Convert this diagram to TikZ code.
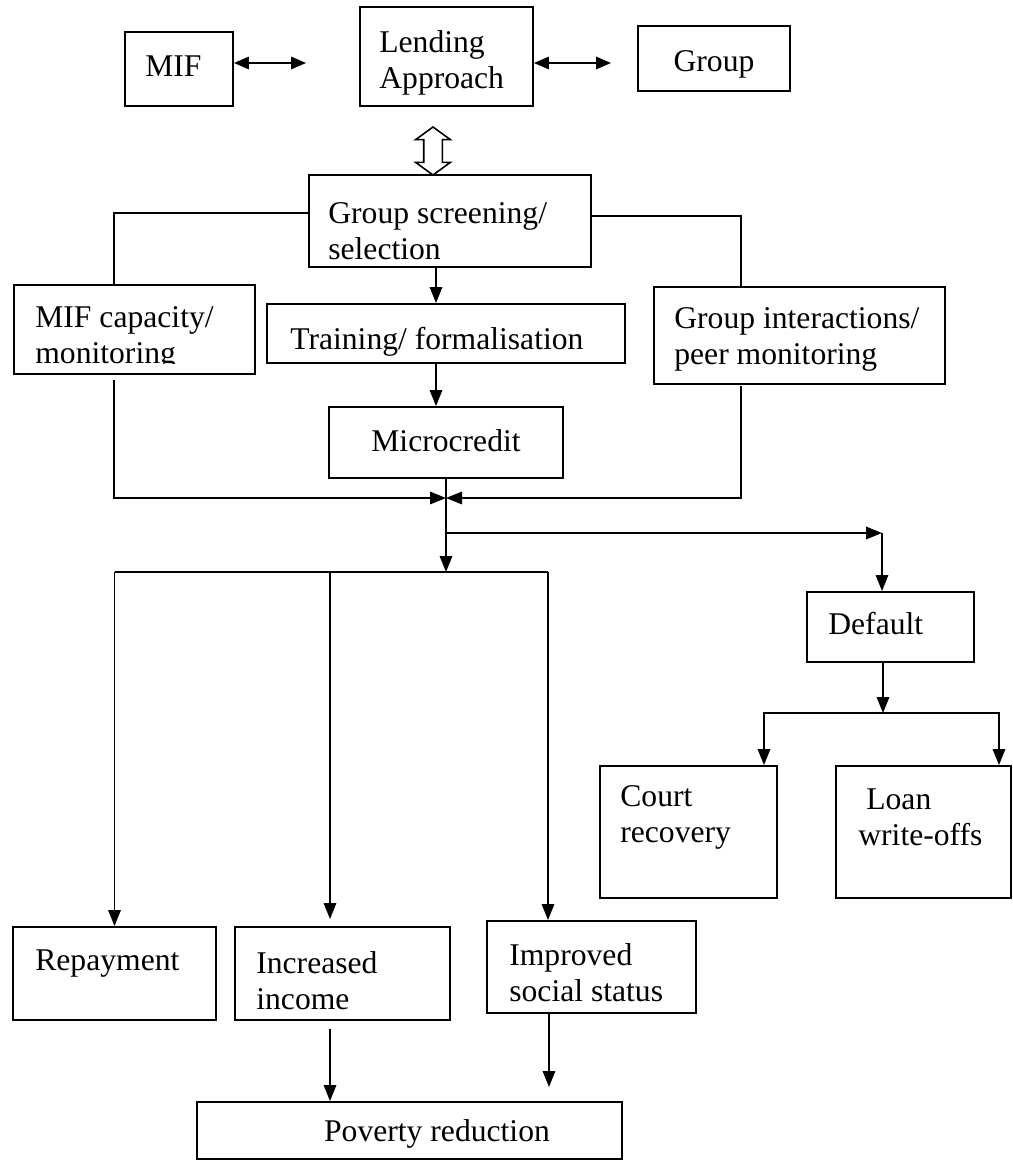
\documentclass[tikz,border=0pt]{standalone}
\usepackage{fontspec}
\setmainfont{Liberation Serif}
\usetikzlibrary{arrows.meta,shapes.arrows}

\begin{document}
\begin{tikzpicture}[x=0.02cm, y=-0.02cm,
  box/.style={draw, line width=1.1pt, inner sep=0pt},
  txt/.style={anchor=west, align=left, inner sep=0pt},
  link/.style={line width=0.95pt},
  arr/.style={link, -{Triangle[length=0.32cm, width=0.25cm]}},
  both/.style={link, {Triangle[length=0.3cm, width=0.25cm]}-{Triangle[length=0.3cm, width=0.25cm]}},
  every node/.style={font=\fontsize{18}{20.5}\selectfont}]
\useasboundingbox (0,0) rectangle (1013,1160);

% top row
\node[box, minimum width=2.16cm, minimum height=1.48cm] (mif) at (179,69) {};
\node[box, minimum width=3.46cm, minimum height=1.98cm] (lend) at (446.5,56.5) {};
\node[box, minimum width=3.04cm, minimum height=1.30cm] (grp) at (714,58.5) {};
\node[txt] (miftxt) at (145,66) {MIF};
\node[txt] (lendtxt) at (379,63) {Lending\\Approach};
\node (grptxt) at (714,64) {Group};
\coordinate (a1) at (306,63);
\coordinate (a2) at (611,63);
\draw[both] (mif.east |- a1) -- (a1);
\draw[both] (lend.east |- a2) -- (a2);
\node[draw, line width=0.9pt, double arrow, shape border rotate=90, inner sep=0.17cm,
  minimum height=0.96cm, double arrow head extend=0.16cm, double arrow tip angle=108] (swap) at (433,151) {};

% screening and its three branches
\node[box, minimum width=5.64cm, minimum height=1.84cm] (screen) at (450,221) {};
\node[txt] (screentxt) at (328,231) {Group screening/\\selection};
\node[box, minimum width=4.82cm, minimum height=1.78cm] (mifcap) at (134.5,329.5) {};
\begin{scope}
  \clip (mifcap.north west) rectangle ([yshift=0.22cm]mifcap.south east);
  \node[txt] (captxt) at (35,338) {MIF capacity/\\monitoring};
\end{scope}
\node[box, minimum width=7.16cm, minimum height=1.18cm] (train) at (446,333.5) {};
\node[txt] (traintxt) at (290,342) {Training/ formalisation};
\node[box, minimum width=5.82cm, minimum height=1.94cm] (peer) at (799.5,335.5) {};
\node[txt] (peertxt) at (674,339) {Group interactions/\\peer monitoring};
\node[box, minimum width=4.68cm, minimum height=1.42cm] (micro) at (446,442.5) {};
\node (microtxt) at (446,441) {Microcredit};

\draw[link] ([yshift=0.16cm]screen.west) -| ([xshift=-0.41cm]mifcap.north);
\draw[link] ([yshift=0.1cm]screen.east) -| ([xshift=-1.17cm]peer.north);
\draw[arr] ([xshift=-0.28cm]screen.south) -- ([xshift=-0.28cm]screen.south |- train.north);
\draw[arr] ([xshift=-0.2cm]train.south) -- ([xshift=-0.2cm]train.south |- micro.north);

% merge and split
\coordinate (hub) at (446,498);
\coordinate (fork) at (446,572);
\coordinate (turn) at (882,533);
\draw[arr] ([xshift=-0.41cm, yshift=-0.1cm]mifcap.south) |- (hub);
\draw[arr] ([xshift=-1.17cm, yshift=-0.02cm]peer.south) |- (hub);
\draw[arr] (micro.south) -- (fork);
\draw[arr] (micro.south |- turn) -- (turn);

% default side
\node[box, minimum width=3.34cm, minimum height=1.40cm] (default) at (890.5,627) {};
\node[txt] (defaulttxt) at (828,624) {Default};
\draw[arr] (turn) -- (turn |- default.north);
\node[box, minimum width=3.54cm, minimum height=2.64cm] (court) at (688.5,832) {};
\node[box, minimum width=3.50cm, minimum height=2.64cm] (loan) at (923.5,832) {};
\node[txt] (courttxt) at (620,817) {Court\\recovery};
\node[txt] (loantxt) at (858,817) {\hspace*{0.16cm}Loan\\write-offs};
\coordinate (split) at (883,713);
\draw[arr] ([xshift=-0.15cm]default.south) -- (split);
\draw[arr] (split) -| ([xshift=1.51cm]court.north);
\draw[arr] (split) -| ([xshift=1.51cm]loan.north);

% outcomes
\node[box, minimum width=4.06cm, minimum height=1.86cm] (repay) at (114.5,973.5) {};
\node[box, minimum width=4.30cm, minimum height=1.86cm] (income) at (342.5,973.5) {};
\node[box, minimum width=4.18cm, minimum height=1.84cm] (status) at (591.5,967) {};
\node[txt] (repaytxt) at (35,964) {Repayment};
\node[txt] (incometxt) at (256,981) {Increased\\income};
\node[txt] (statustxt) at (509,973) {Improved\\social status};
\draw[link] (repay.north |- fork) -- ([xshift=-0.87cm]status.north |- fork);
\draw[arr] (repay.north |- fork) -- (repay.north);
\draw[arr] ([xshift=-0.25cm]income.north |- fork) -- ([xshift=-0.25cm, yshift=0.14cm]income.north);
\draw[arr] ([xshift=-0.87cm]status.north |- fork) -- ([xshift=-0.87cm]status.north);

\node[box, minimum width=8.50cm, minimum height=1.14cm] (poverty) at (409.5,1130.5) {};
\node (povertytxt) at (437,1134) {Poverty reduction};
\coordinate (stop) at (549,1087);
\draw[arr] ([xshift=-0.25cm, yshift=-0.16cm]income.south) -- ([xshift=-0.25cm]income.south |- poverty.north);
\draw[arr] ([xshift=-0.85cm]status.south) -- (stop);
\end{tikzpicture}
\end{document}
